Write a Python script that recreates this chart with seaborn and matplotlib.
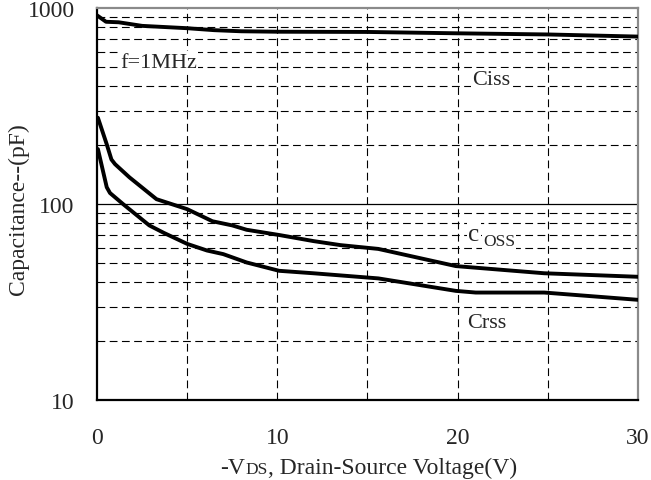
import seaborn as sns
import pandas as pd
import matplotlib.pyplot as plt
from matplotlib.offsetbox import TextArea, HPacker, AnnotationBbox
from matplotlib.ticker import FixedLocator, NullFormatter

# values
ciss_v = [0, 0.5, 1.2, 2.5, 5, 6.5, 8, 10, 15, 20, 25, 30]
ciss_c = [919, 852, 847, 812, 790, 772, 762, 758, 756, 744, 734, 716]

coss_v = [0.05, 0.54, 0.8, 1.0, 1.8, 3.3, 5.0, 6.4, 7.5, 8.3, 10.1, 12, 13.5, 15.6, 19.9, 24.8, 30]
coss_c = [276, 202, 169, 160, 137, 106, 94.3, 81.8, 77.9, 74, 69.6, 64.8, 61.8, 59.1, 48.3, 44.4, 42.6]

crss_v = [0.05, 0.54, 0.72, 1.45, 2.9, 3.7, 5.0, 6.1, 7.0, 8.3, 10.1, 12, 15.6, 19.9, 21, 24.8, 30]
crss_c = [191, 122, 114, 100, 77.9, 71.4, 62.7, 58, 55.6, 50.4, 45.7, 44.4, 41.8, 36.1, 35.4, 35.4, 32.5]

y_ticks = [10, 100, 1000]
x_ticks = [0, 10, 20, 30]

sns.set_style('white')
plt.rcParams['font.family'] = ['Liberation Serif', 'DejaVu Serif']

df = pd.concat([
    pd.DataFrame({'v': ciss_v, 'c': ciss_c, 's': 'Ciss'}),
    pd.DataFrame({'v': coss_v, 'c': coss_c, 's': 'Coss'}),
    pd.DataFrame({'v': crss_v, 'c': crss_c, 's': 'Crss'}),
])

fig = plt.figure(figsize=(6.51, 4.81), dpi=100)
ax = fig.add_axes([0.149, 0.166, 0.831, 0.815])

# grid
for xv in [5, 10, 15, 20, 25]:
    ax.axvline(xv, color='black', lw=0.8, ls=(0, (7, 4)), zorder=1)
minor = [m * d for d in (10, 100) for m in range(2, 10)]
for yv in minor:
    ax.axhline(yv, color='black', lw=0.8, ls=(0, (7, 4)), zorder=1)
ax.axhline(100, color='black', lw=0.9, zorder=1)

sns.lineplot(ax=ax, data=df, x='v', y='c', units='s', estimator=None,
             color='black', lw=2.8, sort=False, zorder=3)

ax.set_yscale('log')
ax.set_xlim(0, 30)
ax.set_ylim(10, 1000)
ax.yaxis.set_major_locator(FixedLocator(y_ticks))
ax.yaxis.set_minor_locator(FixedLocator(minor))
ax.yaxis.set_minor_formatter(NullFormatter())
ax.set_yticklabels([str(t) for t in y_ticks])
ax.set_xticks(x_ticks)
ax.tick_params(axis='x', length=0, pad=19, labelsize=17)
ax.tick_params(axis='y', which='both', length=0, pad=16, labelsize=17)
ax.set_xlabel('')
ax.set_ylabel('Capacitance--(pF)', fontsize=17)
ax.yaxis.set_label_coords(-0.125, 0.49)

for side in ['left', 'bottom']:
    ax.spines[side].set_color('black')
    ax.spines[side].set_linewidth(1.6)
for side in ['top', 'right']:
    ax.spines[side].set_color('#8a8a8a')
    ax.spines[side].set_linewidth(1.6)

# annotations
box_kw = dict(fc='white', ec='none', pad=1)
ax.text(1.27, 530, 'f=1MHz', fontsize=16, va='center', ha='left', bbox=box_kw, zorder=4)
ax.text(20.8, 434, 'Ciss', fontsize=16, va='center', ha='left', bbox=box_kw, zorder=4)
ax.text(20.6, 70.5, 'c', fontsize=18, va='center', ha='left', bbox=box_kw, zorder=4)
ax.text(21.4, 64.5, 'OSS', fontsize=12.5, va='center', ha='left', bbox=box_kw, zorder=4)
ax.text(20.5, 25.0, 'Crss', fontsize=16, va='center', ha='left', bbox=box_kw, zorder=4)

# x label with small DS
parts = [TextArea('-V', textprops=dict(size=17)),
         TextArea('DS', textprops=dict(size=12.5)),
         TextArea(', Drain-Source Voltage(V)', textprops=dict(size=17))]
box = HPacker(children=parts, align='baseline', pad=0, sep=0)
ab = AnnotationBbox(box, (0.566, 0.027), xycoords='figure fraction',
                    frameon=False, box_alignment=(0.5, 0.5))
fig.add_artist(ab)

fig.savefig('out.png', dpi=100)
